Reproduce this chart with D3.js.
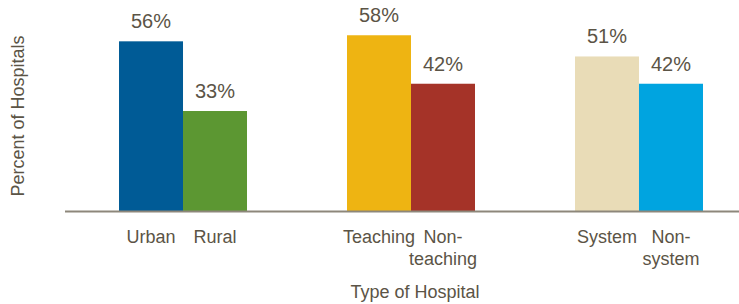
<!DOCTYPE html>
<html>
<head>
<meta charset="utf-8">
<script src="https://cdn.jsdelivr.net/npm/d3@7"></script>
<style>
  body { margin: 0; background: #fff; }
  svg text { font-family: "Liberation Sans", Arial, sans-serif; fill: #5b5446; }
</style>
</head>
<body>
<div id="chart"></div>
<script>
// groups and bars
var groups = ['location', 'teaching', 'system'];
var categories = ['Urban', 'Rural', 'Teaching', 'Non-teaching', 'System', 'Non-system'];
var catGroup = ['location', 'location', 'teaching', 'teaching', 'system', 'system'];
var catLines = [['Urban'], ['Rural'], ['Teaching'], ['Non-', 'teaching'], ['System'], ['Non-', 'system']];
var values = [56, 33, 58, 42, 51, 42];
var colors = ['#005b96', '#5c9732', '#eeb412', '#a53328', '#e9dcb7', '#00a4e0'];

var width = 739, height = 304;
var baseY = 211;

var svg = d3.select('#chart')
  .append('svg')
  .attr('width', width)
  .attr('height', height);

// outer band = group, inner band = bar
var x0 = d3.scaleBand()
  .domain(groups)
  .range([0, 822])
  .paddingInner(0.4386)
  .paddingOuter(0.522);

var x1 = d3.scaleBand()
  .domain([0, 1])
  .range([0, x0.bandwidth()]);

var y = d3.scaleLinear()
  .domain([0, 60])
  .range([baseY, baseY - 60 * 3.03]);

function barX(i) {
  return x0(catGroup[i]) + x1(i % 2);
}

svg.selectAll('rect.bar')
  .data(values)
  .enter()
  .append('rect')
  .attr('class', 'bar')
  .attr('x', function(d, i) { return barX(i); })
  .attr('width', x1.bandwidth())
  .attr('y', function(d) { return y(d); })
  .attr('height', function(d) { return y(0) - y(d); })
  .attr('fill', function(d, i) { return colors[i]; });

// value labels
svg.selectAll('text.val')
  .data(values)
  .enter()
  .append('text')
  .attr('class', 'val')
  .attr('x', function(d, i) { return barX(i) + x1.bandwidth() / 2; })
  .attr('y', function(d) { return y(d) - 13; })
  .attr('text-anchor', 'middle')
  .style('font-size', '20px')
  .text(function(d) { return d + '%'; });

// baseline
svg.append('line')
  .attr('x1', 65)
  .attr('x2', width)
  .attr('y1', baseY + 0.5)
  .attr('y2', baseY + 0.5)
  .attr('stroke', '#8d877b')
  .attr('stroke-width', 2);

// category labels
var cat = svg.selectAll('text.cat')
  .data(catLines)
  .enter()
  .append('text')
  .attr('class', 'cat')
  .attr('text-anchor', 'middle')
  .style('font-size', '18px')
  .attr('transform', function(d, i) {
    return 'translate(' + (barX(i) + x1.bandwidth() / 2) + ',' + 243 + ')';
  });

cat.selectAll('tspan')
  .data(function(d) { return d; })
  .enter()
  .append('tspan')
  .attr('x', 0)
  .attr('dy', function(d, i) { return i === 0 ? 0 : 22; })
  .text(function(d) { return d; });

// axis titles
svg.append('text')
  .attr('text-anchor', 'middle')
  .style('font-size', '18px')
  .attr('transform', 'translate(24,116) rotate(-90)')
  .text('Percent of Hospitals');

svg.append('text')
  .attr('text-anchor', 'middle')
  .style('font-size', '18px')
  .attr('x', 415)
  .attr('y', 298)
  .text('Type of Hospital');
</script>
</body>
</html>
